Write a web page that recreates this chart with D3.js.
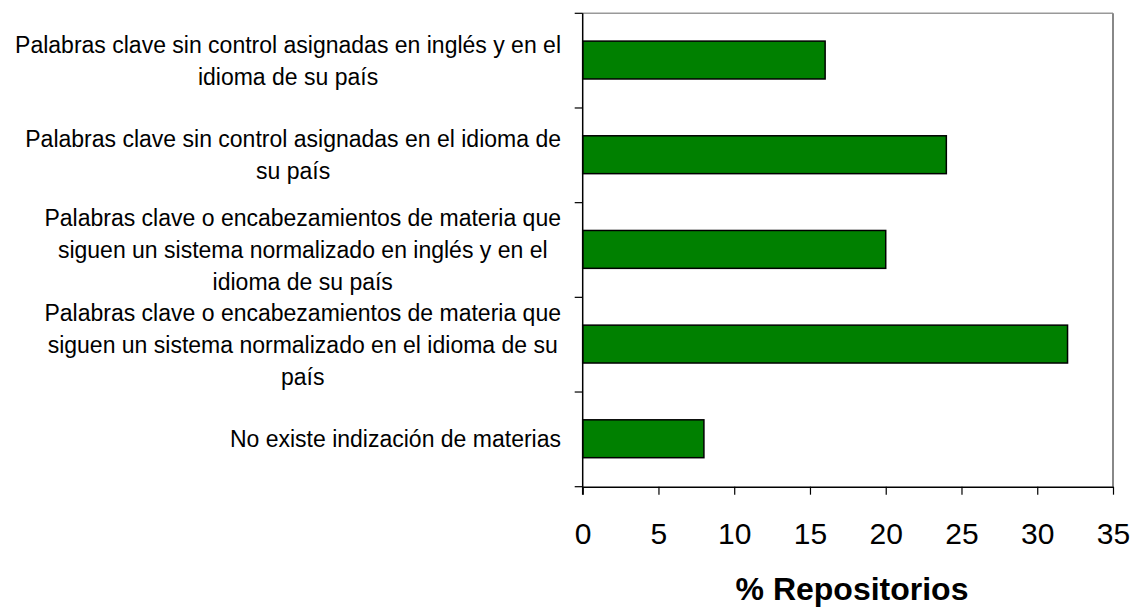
<!DOCTYPE html>
<html>
<head>
<meta charset="utf-8">
<script src="https://cdnjs.cloudflare.com/ajax/libs/d3/7.8.5/d3.min.js"></script>
<style>
  body { margin: 0; background: #fff; }
  svg { font-family: "Liberation Sans", Arial, sans-serif; }
</style>
</head>
<body>
<div id="viz"></div>
<script>
// category labels, already broken into lines as in the original
var categories = [
  ["Palabras clave sin control asignadas en inglés y en el", "idioma de su país"],
  ["Palabras clave sin control asignadas en el idioma de", "su país"],
  ["Palabras clave o encabezamientos de materia que", "siguen un sistema normalizado en inglés y en el", "idioma de su país"],
  ["Palabras clave o encabezamientos de materia que", "siguen un sistema normalizado en el idioma de su", "país"],
  ["No existe indización de materias"]
];
var values = [16, 24, 20, 32, 8];
var xTicks = [0, 5, 10, 15, 20, 25, 30, 35];
var xTitle = "% Repositorios";

var W = 1133, H = 607;
var plot = { left: 582.7, right: 1113, top: 13.3, bottom: 486.7 };

var svg = d3.select("#viz").append("svg")
  .attr("width", W)
  .attr("height", H);

var xScale = d3.scaleLinear().domain([0, 35]).range([plot.left, plot.right]);
var yScale = d3.scaleBand()
  .domain(d3.range(categories.length))
  .range([plot.top, plot.bottom])
  .paddingInner(0.6)
  .paddingOuter(0.3);
var step = yScale.step();

// top + right frame (grey)
svg.append("line")
  .attr("x1", plot.left).attr("x2", plot.right)
  .attr("y1", plot.top).attr("y2", plot.top)
  .style("stroke", "#999").style("stroke-width", 1.5);
svg.append("line")
  .attr("x1", plot.right).attr("x2", plot.right)
  .attr("y1", plot.top).attr("y2", plot.bottom)
  .style("stroke", "#888").style("stroke-width", 2);

// bars
svg.selectAll("rect.bar")
  .data(values)
  .enter().append("rect")
  .attr("class", "bar")
  .attr("x", xScale(0))
  .attr("y", function (d, i) { return yScale(i) - 0.6; })
  .attr("width", function (d) { return xScale(d) - xScale(0); })
  .attr("height", yScale.bandwidth())
  .style("fill", "#008000")
  .style("stroke", "#000")
  .style("stroke-width", 1.5);

// x axis
var xAxis = d3.axisBottom(xScale).tickValues(xTicks).tickSize(8).tickPadding(10).tickSizeOuter(0);
var gx = svg.append("g")
  .attr("transform", "translate(0," + plot.bottom + ")")
  .call(xAxis);
gx.select(".domain").style("stroke", "#000").style("stroke-width", 1.5);
gx.selectAll(".tick line").style("stroke", "#000").style("stroke-width", 1.2);
gx.selectAll(".tick text")
  .style("font-size", "30px")
  .style("font-family", "Liberation Sans, Arial, sans-serif")
  .style("fill", "#000")
  .attr("dy", null)
  .attr("y", 57);

// y axis line + boundary ticks
svg.append("line")
  .attr("x1", plot.left).attr("x2", plot.left)
  .attr("y1", plot.top).attr("y2", plot.bottom + 8)
  .style("stroke", "#000").style("stroke-width", 1.5);
svg.selectAll("line.ytick")
  .data(d3.range(categories.length + 1))
  .enter().append("line")
  .attr("class", "ytick")
  .attr("x1", plot.left - 8).attr("x2", plot.left)
  .attr("y1", function (i) { return plot.top + i * step; })
  .attr("y2", function (i) { return plot.top + i * step; })
  .style("stroke", "#000").style("stroke-width", 1.2);

// category labels: block right-aligned, lines centred inside the block
var lineH = 32;
var labelRight = 561;
categories.forEach(function (lines, i) {
  var cy = yScale(i) + yScale.bandwidth() / 2;
  var g = svg.append("g");
  var texts = g.selectAll("text")
    .data(lines)
    .enter().append("text")
    .style("font-size", "23px")
    .style("fill", "#000")
    .attr("text-anchor", "middle")
    .attr("y", function (d, j) { return cy + 8 + (j - (lines.length - 1) / 2) * lineH; })
    .text(function (d) { return d; });
  var maxW = 0;
  texts.each(function () { maxW = Math.max(maxW, this.getComputedTextLength()); });
  texts.attr("x", labelRight - maxW / 2);
});

// x axis title
svg.append("text")
  .attr("x", 852)
  .attr("y", 600)
  .attr("text-anchor", "middle")
  .style("font-size", "32px")
  .style("font-weight", "bold")
  .style("fill", "#000")
  .text(xTitle);
</script>
</body>
</html>
